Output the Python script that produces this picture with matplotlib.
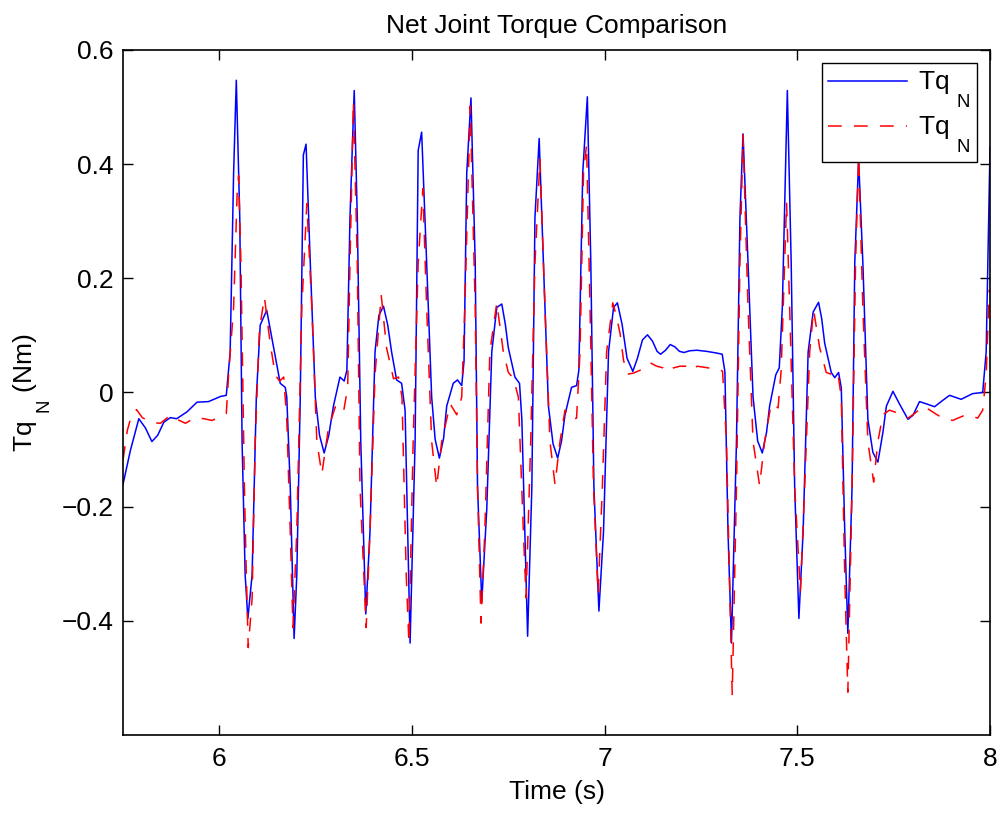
import matplotlib
matplotlib.use("Agg")
import matplotlib.pyplot as plt

# MATLAB puts subscripts lower than matplotlib does by default
try:
    import matplotlib._mathtext as _mt
    for cls in [_mt.FontConstantsBase] + list(_mt.FontConstantsBase.__subclasses__()):
        cls.subdrop = 1.3
        cls.sub1 = 1.3
except Exception:
    pass

# values
time_blue = [
    5.750, 5.769, 5.791, 5.808, 5.825, 5.840, 5.856, 5.873, 5.889, 5.916,
    5.942, 5.972, 6.003, 6.018, 6.028, 6.037, 6.044, 6.053, 6.059, 6.067,
    6.074, 6.085, 6.096, 6.106, 6.123, 6.141, 6.158, 6.171, 6.175, 6.184,
    6.194, 6.201, 6.210, 6.218, 6.225, 6.236, 6.249, 6.260, 6.272, 6.284,
    6.296, 6.313, 6.324, 6.331, 6.339, 6.350, 6.358, 6.367, 6.380, 6.391,
    6.404, 6.414, 6.426, 6.437, 6.447, 6.460, 6.473, 6.482, 6.495, 6.508,
    6.516, 6.525, 6.538, 6.551, 6.560, 6.571, 6.582, 6.590, 6.607, 6.618,
    6.629, 6.635, 6.642, 6.653, 6.664, 6.670, 6.681, 6.694, 6.707, 6.720,
    6.733, 6.742, 6.750, 6.767, 6.779, 6.785, 6.800, 6.811, 6.819, 6.830,
    6.841, 6.854, 6.866, 6.878, 6.888, 6.897, 6.914, 6.927, 6.933, 6.943,
    6.955, 6.964, 6.972, 6.985, 6.997, 7.010, 7.023, 7.033, 7.045, 7.058,
    7.073, 7.085, 7.098, 7.111, 7.124, 7.136, 7.145, 7.158, 7.170, 7.182,
    7.194, 7.206, 7.220, 7.239, 7.265, 7.291, 7.305, 7.312, 7.320, 7.329,
    7.342, 7.351, 7.359, 7.372, 7.385, 7.397, 7.409, 7.420, 7.428, 7.444,
    7.453, 7.461, 7.474, 7.484, 7.493, 7.504, 7.515, 7.528, 7.541, 7.555,
    7.563, 7.571, 7.588, 7.597, 7.607, 7.614, 7.623, 7.631, 7.642, 7.649,
    7.659, 7.670, 7.683, 7.696, 7.709, 7.722, 7.731, 7.748, 7.765, 7.787,
    7.800, 7.817, 7.835, 7.856, 7.875, 7.895, 7.925, 7.955, 7.981, 7.990,
    8.000,
]
torque_blue = [
    -0.161, -0.102, -0.046, -0.062, -0.086, -0.075, -0.052, -0.044, -0.046, -0.034,
    -0.017, -0.016, -0.007, -0.005, 0.070, 0.384, 0.547, 0.306, -0.086, -0.320,
    -0.396, -0.320, -0.008, 0.118, 0.144, 0.078, 0.016, 0.009, -0.008, -0.165,
    -0.431, -0.320, -0.008, 0.416, 0.435, 0.227, -0.008, -0.075, -0.106, -0.075,
    -0.024, 0.027, 0.020, 0.039, 0.306, 0.529, 0.306, -0.086, -0.388, -0.243,
    0.071, 0.135, 0.151, 0.118, 0.071, 0.022, 0.016, -0.031, -0.439, -0.086,
    0.424, 0.456, 0.227, -0.008, -0.082, -0.115, -0.080, -0.024, 0.016, 0.022,
    0.012, 0.055, 0.384, 0.516, 0.227, -0.165, -0.367, -0.204, 0.071, 0.149,
    0.155, 0.120, 0.078, 0.027, 0.016, -0.047, -0.427, -0.165, 0.306, 0.445,
    0.227, -0.024, -0.090, -0.115, -0.085, -0.039, 0.009, 0.012, 0.039, 0.384,
    0.518, 0.227, -0.165, -0.383, -0.243, 0.071, 0.149, 0.157, 0.120, 0.060,
    0.037, 0.060, 0.092, 0.101, 0.090, 0.072, 0.067, 0.074, 0.084, 0.080,
    0.072, 0.070, 0.073, 0.074, 0.072, 0.069, 0.067, 0.036, -0.243, -0.439,
    -0.086, 0.306, 0.453, 0.227, -0.008, -0.085, -0.106, -0.070, -0.024, 0.031,
    0.043, 0.149, 0.529, 0.227, -0.165, -0.396, -0.243, 0.071, 0.141, 0.158,
    0.130, 0.086, 0.035, 0.026, 0.035, 0.008, -0.243, -0.422, -0.165, 0.227,
    0.408, 0.227, -0.047, -0.105, -0.122, -0.070, -0.024, 0.002, -0.020, -0.047,
    -0.040, -0.016, -0.020, -0.025, -0.015, -0.005, -0.012, -0.002, 0.000, 0.071,
    0.430,
]

time_red = [
    5.750, 5.761, 5.772, 5.785, 5.800, 5.808, 5.830, 5.847, 5.873, 5.890,
    5.912, 5.938, 5.960, 5.981, 6.011, 6.018, 6.024, 6.037, 6.046, 6.050,
    6.056, 6.065, 6.070, 6.075, 6.085, 6.093, 6.104, 6.117, 6.132, 6.145,
    6.156, 6.167, 6.175, 6.184, 6.191, 6.201, 6.214, 6.227, 6.240, 6.253,
    6.266, 6.283, 6.301, 6.322, 6.333, 6.339, 6.348, 6.358, 6.365, 6.381,
    6.391, 6.404, 6.420, 6.434, 6.452, 6.465, 6.474, 6.485, 6.492, 6.503,
    6.516, 6.528, 6.538, 6.551, 6.564, 6.577, 6.599, 6.616, 6.629, 6.637,
    6.651, 6.664, 6.670, 6.679, 6.689, 6.702, 6.720, 6.737, 6.750, 6.763,
    6.776, 6.789, 6.796, 6.808, 6.819, 6.832, 6.845, 6.858, 6.871, 6.884,
    6.897, 6.914, 6.927, 6.936, 6.945, 6.953, 6.962, 6.971, 6.983, 6.994,
    7.005, 7.021, 7.030, 7.040, 7.049, 7.059, 7.075, 7.092, 7.105, 7.118,
    7.135, 7.152, 7.165, 7.178, 7.195, 7.213, 7.226, 7.240, 7.260, 7.278,
    7.295, 7.306, 7.316, 7.325, 7.331, 7.342, 7.351, 7.359, 7.372, 7.385,
    7.402, 7.415, 7.432, 7.450, 7.458, 7.467, 7.472, 7.480, 7.493, 7.508,
    7.519, 7.532, 7.542, 7.558, 7.575, 7.592, 7.605, 7.614, 7.623, 7.631,
    7.642, 7.651, 7.659, 7.670, 7.683, 7.698, 7.709, 7.722, 7.739, 7.756,
    7.787, 7.806, 7.826, 7.842, 7.860, 7.880, 7.903, 7.920, 7.938, 7.955,
    7.968, 7.981, 7.990, 7.998,
]
torque_red = [
    -0.118, -0.067, -0.040, -0.030, -0.044, -0.047, -0.053, -0.054, -0.040, -0.047,
    -0.054, -0.044, -0.046, -0.049, -0.040, -0.037, 0.031, 0.149, 0.345, 0.380,
    0.227, -0.165, -0.320, -0.447, -0.361, -0.086, 0.110, 0.167, 0.086, 0.031,
    0.020, 0.027, -0.047, -0.243, -0.412, -0.243, 0.149, 0.331, 0.149, -0.086,
    -0.143, -0.063, -0.025, -0.035, 0.008, 0.227, 0.510, 0.227, -0.165, -0.412,
    -0.243, 0.031, 0.171, 0.078, 0.024, 0.027, -0.008, -0.320, -0.439, -0.086,
    0.227, 0.357, 0.149, -0.086, -0.165, -0.086, -0.020, -0.039, -0.008, 0.149,
    0.502, 0.149, -0.165, -0.404, -0.243, 0.071, 0.157, 0.071, 0.035, 0.025,
    -0.008, -0.243, -0.360, -0.086, 0.227, 0.408, 0.149, -0.086, -0.161, -0.086,
    -0.031, -0.047, -0.045, 0.071, 0.384, 0.435, 0.149, -0.165, -0.353, -0.165,
    0.071, 0.157, 0.135, 0.103, 0.056, 0.032, 0.034, 0.039, 0.046, 0.052,
    0.046, 0.043, 0.036, 0.043, 0.046, 0.046, 0.039, 0.046, 0.044, 0.042,
    0.042, 0.037, -0.086, -0.361, -0.529, -0.165, 0.227, 0.451, 0.149, -0.086,
    -0.163, -0.086, -0.020, -0.027, 0.039, 0.227, 0.333, 0.149, -0.165, -0.349,
    -0.165, 0.071, 0.145, 0.078, 0.035, 0.031, 0.035, -0.008, -0.322, -0.525,
    -0.165, 0.227, 0.414, 0.149, -0.086, -0.157, -0.086, -0.039, -0.031, -0.035,
    -0.045, -0.036, -0.024, -0.030, -0.038, -0.046, -0.049, -0.044, -0.039, -0.042,
    -0.045, -0.031, 0.031, 0.180,
]

x_ticks = [6, 6.5, 7, 7.5, 8]
x_tick_labels = ["6", "6.5", "7", "7.5", "8"]
y_ticks = [-0.4, -0.2, 0, 0.2, 0.4, 0.6]
y_tick_labels = ["\u22120.4", "\u22120.2", "0", "0.2", "0.4", "0.6"]

plt.rcParams["font.family"] = ["Liberation Sans", "DejaVu Sans"]
plt.rcParams["mathtext.fontset"] = "custom"
plt.rcParams["mathtext.rm"] = "Liberation Sans"
plt.rcParams["mathtext.it"] = "Liberation Sans:italic"
plt.rcParams["mathtext.default"] = "regular"

fig = plt.figure(figsize=(10.05, 8.14), dpi=100)
ax = fig.add_axes([0.1224, 0.0971, 0.8627, 0.8415])

label = "Tq $_{\\mathregular{N}}$"
ax.plot(time_blue, torque_blue, color="#0000ff", linewidth=1.1, label=label)
ax.plot(time_red, torque_red, color="#ff0000", linewidth=1.1,
        linestyle=(0, (9, 8)), label=label)

ax.set_xlim(5.75, 8)
ax.set_ylim(-0.6, 0.6)
ax.set_xticks(x_ticks)
ax.set_xticklabels(x_tick_labels)
ax.set_yticks(y_ticks)
ax.set_yticklabels(y_tick_labels)
ax.tick_params(axis="y", pad=7)
ax.tick_params(direction="in", length=7, width=1, labelsize=19,
               top=True, right=True)
ax.tick_params(axis="x", pad=9)
for sp in ax.spines.values():
    sp.set_linewidth(1.2)

ax.set_title("Net Joint Torque Comparison", fontsize=19, pad=12)
ax.set_xlabel("Time (s)", fontsize=19, labelpad=6)
ax.set_ylabel("Tq $_{\\mathregular{N}}$ (Nm)", fontsize=19, labelpad=6)

leg = ax.legend(loc="upper right", fontsize=19, handlelength=3.0,
                fancybox=False, framealpha=1, edgecolor="black",
                borderaxespad=0.5, handletextpad=0.4, labelspacing=0.2,
                borderpad=0.25)
leg.get_frame().set_linewidth(1.0)

fig.savefig("out.png", dpi=100)
